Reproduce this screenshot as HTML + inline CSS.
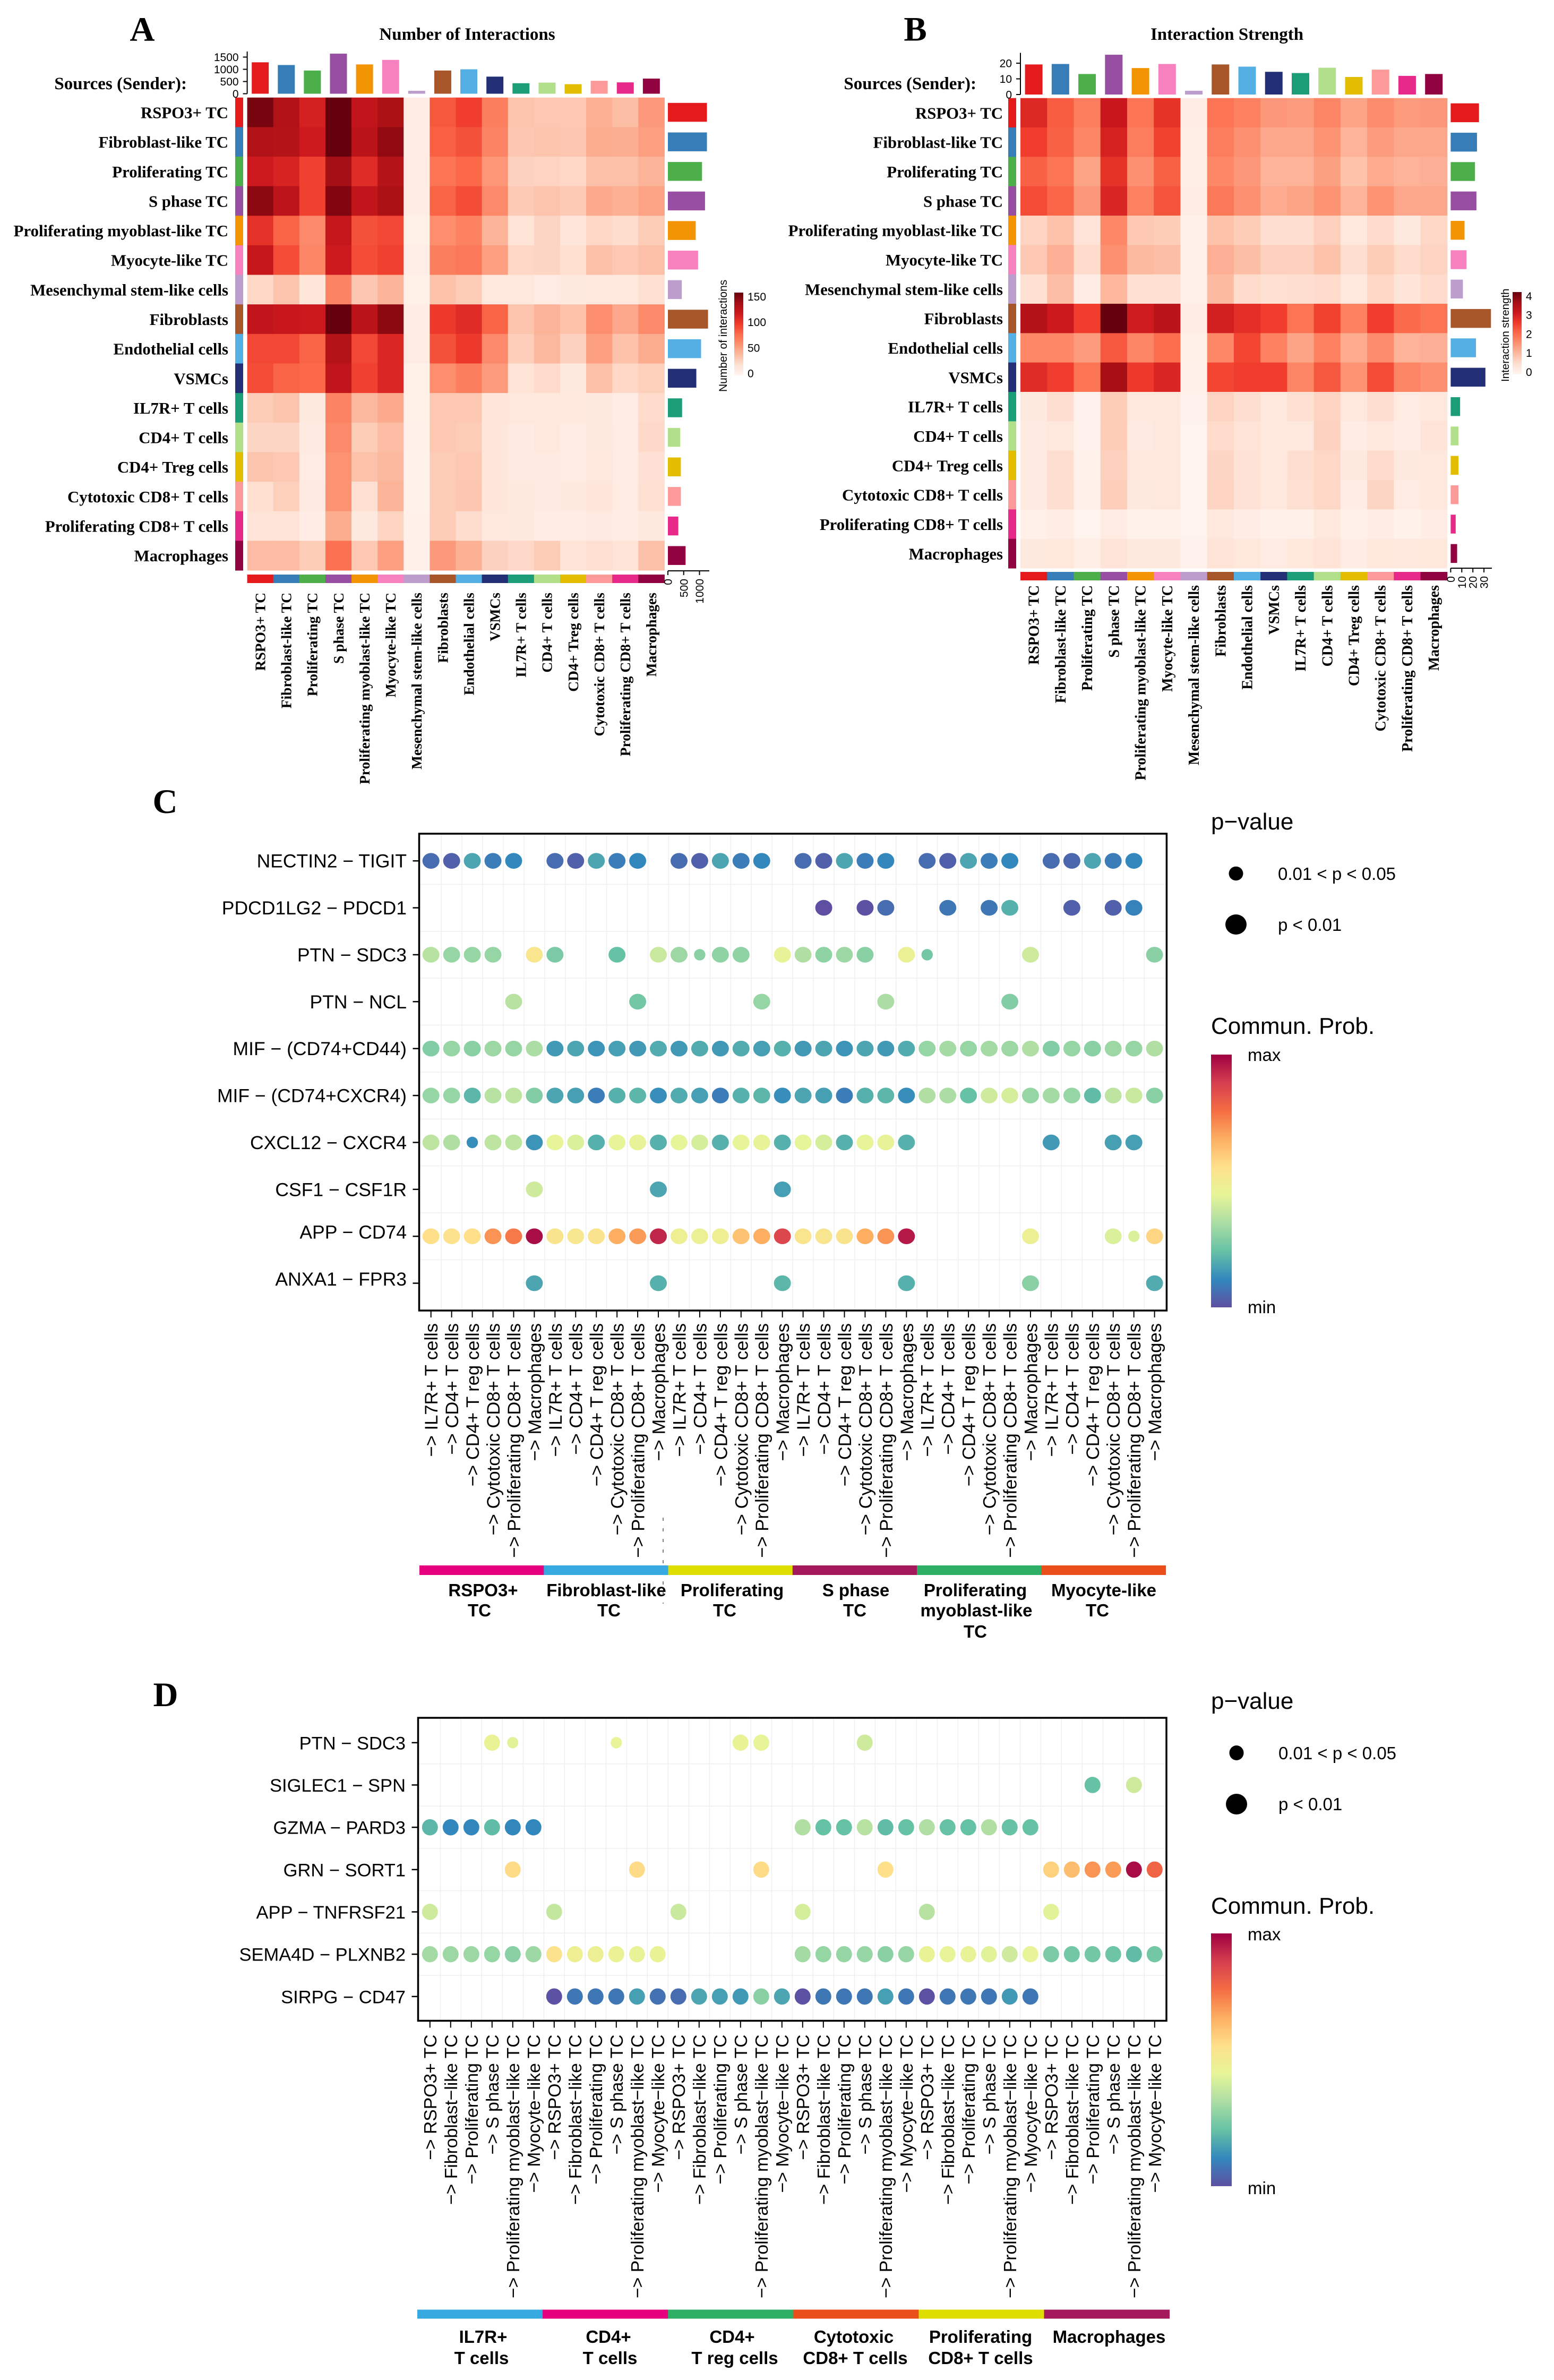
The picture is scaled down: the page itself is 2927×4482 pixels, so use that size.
<!DOCTYPE html>
<html lang="en">
<head>
<meta charset="utf-8">
<title>Cell communication figure</title>
<style>
html,body{margin:0;padding:0;background:#fff;}
svg{display:block;}
text{fill:#000;}
.serif{font-family:"Liberation Serif",serif;font-weight:bold;}
.sans{font-family:"Liberation Sans",sans-serif;}
</style>
</head>
<body>
<svg id="figure" xmlns="http://www.w3.org/2000/svg" width="2927" height="4482" viewBox="0 0 2927 4482">
<defs>
<linearGradient id="redsGrad" x1="0" y1="1" x2="0" y2="0">
<stop offset="0" stop-color="#fff5f0"/><stop offset="0.125" stop-color="#fee0d2"/><stop offset="0.25" stop-color="#fcbba1"/><stop offset="0.375" stop-color="#fc9272"/><stop offset="0.5" stop-color="#fb6a4a"/><stop offset="0.625" stop-color="#ef3b2c"/><stop offset="0.75" stop-color="#cb181d"/><stop offset="0.875" stop-color="#a50f15"/><stop offset="1" stop-color="#67000d"/>
</linearGradient>
<linearGradient id="spectralGrad" x1="0" y1="1" x2="0" y2="0">
<stop offset="0" stop-color="#5e4fa2"/><stop offset="0.111" stop-color="#3288bd"/><stop offset="0.222" stop-color="#66c2a5"/><stop offset="0.333" stop-color="#abdda4"/><stop offset="0.444" stop-color="#e6f598"/><stop offset="0.556" stop-color="#fee08b"/><stop offset="0.667" stop-color="#fdae61"/><stop offset="0.778" stop-color="#f46d43"/><stop offset="0.889" stop-color="#d53e4f"/><stop offset="1" stop-color="#9e0142"/>
</linearGradient>
</defs>

<text class="serif" x="268" y="76.5" font-size="65" text-anchor="middle">A</text>
<text class="serif" x="1724" y="76.5" font-size="65" text-anchor="middle">B</text>
<text class="serif" x="311" y="1531" font-size="65" text-anchor="middle">C</text>
<text class="serif" x="312" y="3213" font-size="65" text-anchor="middle">D</text>

<text class="serif" x="880" y="75" font-size="33" text-anchor="middle">Number of Interactions</text>
<text class="serif" x="2311" y="75" font-size="33" text-anchor="middle">Interaction Strength</text>
<text class="serif" x="352" y="168" font-size="33" text-anchor="end">Sources (Sender):</text>
<text class="serif" x="1839" y="168" font-size="33" text-anchor="end">Sources (Sender):</text>

<text class="sans" transform="translate(1369 738) rotate(-90)" font-size="21">Number of interactions</text>
<text class="sans" transform="translate(2842 719) rotate(-90)" font-size="20.5">Interaction strength</text>

<!-- Panel C legend -->
<text class="sans" x="2281" y="1562" font-size="44">p−value</text>
<ellipse cx="2328" cy="1645" rx="13.5" ry="13.2" fill="#000"/>
<ellipse cx="2328" cy="1741" rx="20" ry="19" fill="#000"/>
<text class="sans" x="2407" y="1657" font-size="33">0.01 &lt; p &lt; 0.05</text>
<text class="sans" x="2407" y="1753" font-size="33">p &lt; 0.01</text>
<text class="sans" x="2281" y="1947" font-size="44">Commun. Prob.</text>
<rect x="2281" y="1986" width="39" height="476" fill="url(#spectralGrad)"/>
<text class="sans" x="2350" y="1998" font-size="33">max</text>
<text class="sans" x="2350" y="2473" font-size="33">min</text>

<!-- Panel D legend -->
<text class="sans" x="2281" y="3218" font-size="44">p−value</text>
<ellipse cx="2329" cy="3301" rx="13.5" ry="14" fill="#000"/>
<ellipse cx="2329" cy="3397.5" rx="20" ry="19.5" fill="#000"/>
<text class="sans" x="2408" y="3313" font-size="33">0.01 &lt; p &lt; 0.05</text>
<text class="sans" x="2408" y="3409" font-size="33">p &lt; 0.01</text>
<text class="sans" x="2281" y="3604" font-size="44">Commun. Prob.</text>
<rect x="2281" y="3641" width="39" height="476" fill="url(#spectralGrad)"/>
<text class="sans" x="2350" y="3654" font-size="33">max</text>
<text class="sans" x="2350" y="4132" font-size="33">min</text>

<!-- Panel C sender group labels -->
<g class="sans" font-size="33" font-weight="bold" text-anchor="middle">
<text x="910" y="3006">RSPO3+</text><text x="903" y="3044">TC</text>
<text x="1142" y="3006">Fibroblast-like</text><text x="1147" y="3044">TC</text>
<text x="1379" y="3006">Proliferating</text><text x="1365" y="3044">TC</text>
<text x="1612" y="3006">S phase</text><text x="1610" y="3044">TC</text>
<text x="1837" y="3006">Proliferating</text><text x="1839" y="3044">myoblast-like</text><text x="1837" y="3084">TC</text>
<text x="2079" y="3006">Myocyte-like</text><text x="2067" y="3044">TC</text>
</g>
<line x1="1249" y1="2858" x2="1249" y2="3020" stroke="#555" stroke-width="1.5" stroke-dasharray="6 14"/>

<!-- Panel D receiver group labels -->
<g class="sans" font-size="33" font-weight="bold" text-anchor="middle">
<text x="910" y="4412">IL7R+</text><text x="907" y="4452">T cells</text>
<text x="1146" y="4412">CD4+</text><text x="1149" y="4452">T cells</text>
<text x="1379" y="4412">CD4+</text><text x="1384" y="4452">T reg cells</text>
<text x="1608" y="4412">Cytotoxic</text><text x="1611" y="4452">CD8+ T cells</text>
<text x="1847" y="4412">Proliferating</text><text x="1847" y="4452">CD8+ T cells</text>
<text x="2089" y="4412">Macrophages</text>
</g>
</svg>

<script>
// ---------- Heatmap data ----------
const cellTypes = ["RSPO3+ TC","Fibroblast-like TC","Proliferating TC","S phase TC","Proliferating myoblast-like TC","Myocyte-like TC","Mesenchymal stem-like cells","Fibroblasts","Endothelial cells","VSMCs","IL7R+ T cells","CD4+ T cells","CD4+ Treg cells","Cytotoxic CD8+ T cells","Proliferating CD8+ T cells","Macrophages"];
const cellColors = ["#e41a1c","#377eb8","#4daf4a","#984ea3","#f29403","#f781bf","#bc9dcc","#a65628","#54b0e4","#222f75","#1b9e77","#b2df8a","#e3be00","#fb9a99","#e7298a","#910241"];
const heatA = [
[150,130,112,155,122,132,8,85,96,68,34,32,32,44,37,55],
[130,128,115,155,125,142,8,82,88,65,33,34,33,46,45,52],
[115,110,95,135,105,128,7,72,78,56,27,26,24,36,36,42],
[143,124,95,147,122,132,8,80,90,62,31,34,31,47,44,50],
[102,80,62,120,88,92,5,60,66,42,16,25,14,24,21,30],
[120,90,64,115,90,95,6,68,70,52,24,25,20,36,32,36],
[24,34,14,65,33,42,5,35,30,13,12,9,11,13,12,19],
[122,118,117,155,125,143,8,98,105,80,34,42,35,60,48,62],
[92,92,80,128,92,108,9,88,98,62,29,40,27,52,35,46],
[90,80,78,122,95,108,5,60,68,54,16,22,11,36,24,28],
[30,34,11,65,40,47,5,32,32,14,12,12,13,11,7,22],
[25,25,10,62,30,38,4,32,30,14,10,13,9,11,9,23],
[34,32,9,58,35,40,3,30,32,14,10,10,9,13,9,18],
[20,28,10,58,19,42,3,30,33,14,11,10,11,14,9,19],
[16,17,8,46,11,26,4,30,21,13,11,8,7,10,7,11],
[38,38,30,74,32,52,4,55,44,27,23,30,16,19,17,36]];
const topBarsA = [1286,1175,950,1640,1200,1385,120,950,1000,700,430,455,390,530,465,620];
const rightBarsA = [1236,1236,1080,1175,880,955,440,1270,1050,900,450,390,410,410,330,560];
const topTicksA = [0,500,1000,1500];
const rightTicksA = [0,500,1000];
const legendTicksA = [0,50,100,150];

const heatB = [
[2.9,2.25,1.85,3.2,1.95,2.75,0.2,1.95,1.8,1.5,1.45,1.75,1.35,1.65,1.45,1.5],
[2.6,2.2,1.75,3.0,1.85,2.55,0.17,1.85,1.6,1.3,1.3,1.55,1.15,1.45,1.3,1.3],
[2.2,1.95,1.35,2.75,1.6,2.2,0.17,1.7,1.5,1.15,1.15,1.4,0.95,1.25,1.15,1.2],
[2.45,2.15,1.5,2.95,1.8,2.35,0.2,1.9,1.6,1.25,1.35,1.55,1.15,1.55,1.3,1.3],
[0.7,0.95,0.45,1.7,0.85,0.8,0.1,0.95,0.8,0.55,0.55,0.75,0.35,0.6,0.3,0.65],
[0.85,1.2,0.6,1.6,1.05,1.0,0.12,1.2,1.0,0.75,0.75,0.95,0.55,0.8,0.6,0.7],
[0.5,1.0,0.2,1.1,0.5,0.5,0.1,1.05,0.6,0.5,0.55,0.6,0.35,0.65,0.4,0.6],
[3.5,3.15,2.6,4.2,3.1,3.4,0.2,3.05,2.8,2.6,1.95,2.55,1.8,2.6,2.1,1.95],
[1.7,1.7,1.45,2.3,1.75,2.05,0.15,1.7,2.5,1.8,1.35,1.8,1.25,1.65,1.15,1.2],
[2.85,2.6,1.95,3.65,2.65,2.95,0.1,2.5,2.6,2.6,1.75,2.3,1.55,2.45,1.75,1.6],
[0.3,0.55,0.07,0.8,0.35,0.35,0.07,0.7,0.55,0.35,0.5,0.7,0.35,0.55,0.25,0.35],
[0.27,0.33,0.07,0.8,0.27,0.33,0.06,0.6,0.45,0.32,0.35,0.72,0.2,0.35,0.2,0.42],
[0.27,0.55,0.08,0.75,0.33,0.35,0.06,0.68,0.48,0.33,0.55,0.65,0.3,0.6,0.3,0.35],
[0.27,0.55,0.1,0.78,0.3,0.33,0.06,0.7,0.48,0.35,0.52,0.65,0.2,0.68,0.25,0.35],
[0.13,0.2,0.05,0.25,0.08,0.08,0.05,0.33,0.2,0.12,0.12,0.33,0.1,0.2,0.08,0.2],
[0.3,0.36,0.17,0.42,0.3,0.3,0.07,0.45,0.36,0.25,0.36,0.45,0.2,0.36,0.33,0.36]];
const topBarsB = [19.2,19.5,13.1,25.4,16.9,19.5,2.4,19.2,17.8,14.5,13.7,17.1,11.2,15.9,11.9,13.1];
const rightBarsB = [25.5,23.7,21.9,23.2,12.5,14.3,11,36.3,22.8,31.3,8.5,7,7,7,4.5,5.8];
const topTicksB = [0,10,20];
const rightTicksB = [0,10,20,30];
const legendTicksB = [0,1,2,3,4];

// ---------- Bubble data ----------
const _ = null;
const pairsC = ["NECTIN2 − TIGIT","PDCD1LG2 − PDCD1","PTN − SDC3","PTN − NCL","MIF − (CD74+CD44)","MIF − (CD74+CXCR4)","CXCL12 − CXCR4","CSF1 − CSF1R","APP − CD74","ANXA1 − FPR3"];
const targetsC = ["IL7R+ T cells","CD4+ T cells","CD4+ T reg cells","Cytotoxic CD8+ T cells","Proliferating CD8+ T cells","Macrophages"];
const senderColorsC = ["#e6007e","#36a9e1","#dede00","#a3195b","#2eaf66","#e94e1b"];
const probC = [
[.05,.03,.15,.08,.1,_, .05,.03,.15,.08,.1,_, .05,.03,.15,.08,.1,_, .05,.03,.15,.08,.1,_, .05,.03,.15,.08,.1,_, .05,.04,.15,.08,.1,_],
[_,_,_,_,_,_, _,_,_,_,_,_, _,_,_,_,_,_, _,0,_,.005,.05,_, _,.07,_,.07,.17,_, _,.03,_,.03,.09,_],
[.32,.27,.27,.27,_,.55, .23,_,_,.2,_,.35, .28,.25,.26,.26,_,.42, .31,.26,.28,.25,_,.45, .22,_,_,_,_,.36, _,_,_,_,_,.25],
[_,_,_,_,.32,_, _,_,_,_,.22,_, _,_,_,_,.27,_, _,_,_,_,.3,_, _,_,_,_,.24,_, _,_,_,_,_,_],
[.24,.27,.25,.28,.27,.3, .13,.15,.12,.14,.13,.16, .13,.16,.13,.16,.14,.17, .13,.15,.12,.15,.13,.16, .27,.29,.27,.29,.28,.31, .24,.27,.25,.28,.27,.31],
[.27,.27,.18,.32,.33,.24, .15,.14,.08,.17,.18,.11, .16,.14,.08,.17,.18,.11, .15,.14,.08,.17,.18,.11, .31,.3,.2,.36,.37,.27, .29,.27,.19,.33,.35,.25],
[.33,.31,.11,.33,.33,.12, .41,.38,.17,.41,.42,.17, .4,.37,.17,.41,.42,.17, .4,.37,.17,.41,.42,.17, _,_,_,_,_,_, .13,_,_,.14,.14,_],
[_,_,_,_,_,.36, _,_,_,_,_,.15, _,_,_,_,_,.14, _,_,_,_,_,_, _,_,_,_,_,_, _,_,_,_,_,_],
[.6,.58,.6,.74,.78,.98, .56,.53,.57,.7,.73,.94, .47,.45,.47,.66,.7,.88, .55,.54,.57,.7,.74,.96, _,_,_,_,_,.46, _,_,_,.38,.38,.62],
[_,_,_,_,_,.15, _,_,_,_,_,.17, _,_,_,_,_,.18, _,_,_,_,_,.17, _,_,_,_,_,.25, _,_,_,_,_,.16]];
const smallC = [[],[],[13,24],[],[],[],[2],[],[34],[]];

const pairsD = ["PTN − SDC3","SIGLEC1 − SPN","GZMA − PARD3","GRN − SORT1","APP − TNFRSF21","SEMA4D − PLXNB2","SIRPG − CD47"];
const sendersD = ["RSPO3+ TC","Fibroblast−like TC","Proliferating TC","S phase TC","Proliferating myoblast−like TC","Myocyte−like TC"];
const targetColorsD = ["#36a9e1","#e6007e","#2eaf66","#e94e1b","#dede00","#a3195b"];
const probD = [
[_,_,_,.43,.39,_, _,_,_,.41,_,_, _,_,_,.43,.41,_, _,_,_,.36,_,_, _,_,_,_,_,_, _,_,_,_,_,_],
[_,_,_,_,_,_, _,_,_,_,_,_, _,_,_,_,_,_, _,_,_,_,_,_, _,_,_,_,_,_, _,_,.2,_,.36,_],
[.18,.1,.1,.19,.1,.1, _,_,_,_,_,_, _,_,_,_,_,_, .31,.2,.2,.32,.19,.2, .31,.2,.2,.31,.2,.2, _,_,_,_,_,_],
[_,_,_,_,.61,_, _,_,_,_,.61,_, _,_,_,_,.61,_, _,_,_,_,.6,_, _,_,_,_,_,_, .63,.67,.74,.73,.98,.82],
[.36,_,_,_,_,_, .34,_,_,_,_,_, .35,_,_,_,_,_, .37,_,_,_,_,_, .32,_,_,_,_,_, .39,_,_,_,_,_],
[.29,.28,.28,.27,.25,.28, .58,.47,.46,.44,.42,.43, _,_,_,_,_,_, .29,.27,.27,.27,.25,.27, .43,.41,.42,.39,.36,.41, .23,.22,.22,.21,.19,.22],
[_,_,_,_,_,_, .005,.07,.07,.07,.14,.06, .05,.15,.14,.13,.25,.15, .005,.07,.07,.07,.14,.07, .005,.07,.07,.07,.13,.07, _,_,_,_,_,_]];
const smallD = [[4,9],[],[],[],[],[],[]];

// ---------- Palettes ----------
const redsStops = ["#fff5f0","#fee0d2","#fcbba1","#fc9272","#fb6a4a","#ef3b2c","#cb181d","#a50f15","#67000d"];
const spectralStops = ["#5e4fa2","#3288bd","#66c2a5","#abdda4","#e6f598","#fee08b","#fdae61","#f46d43","#d53e4f","#9e0142"];
const spectralKnots = [0,.1,.2,.3,.4,.6,.7,.8,.9,1];

function hexToRgb(h){return [parseInt(h.slice(1,3),16),parseInt(h.slice(3,5),16),parseInt(h.slice(5,7),16)];}
function blend(h1,h2,f){
  const a=hexToRgb(h1),b=hexToRgb(h2);
  return 'rgb('+a.map((v,n)=>Math.round(v+(b[n]-v)*f)).join(',')+')';
}
function ramp(stops,t){
  const c=Math.max(0,Math.min(1,t))*(stops.length-1);
  const i=Math.min(Math.floor(c),stops.length-2);
  return blend(stops[i],stops[i+1],c-i);
}
function spectralColor(t){
  const v=Math.max(0,Math.min(1,t));
  let i=0;
  while(i<spectralKnots.length-2&&v>spectralKnots[i+1]){i++;}
  return blend(spectralStops[i],spectralStops[i+1],(v-spectralKnots[i])/(spectralKnots[i+1]-spectralKnots[i]));
}

const NS='http://www.w3.org/2000/svg';
const root=document.getElementById('figure');
function mk(tag,attrs,parent,txt){
  const el=document.createElementNS(NS,tag);
  for(const k in attrs){el.setAttribute(k,attrs[k]);}
  if(txt!==undefined){el.textContent=txt;}
  parent.appendChild(el);
  return el;
}

// ---------- Heatmap panels ----------
function drawHeatPanel(cfg,matrix,topVals,rightVals,topTicks,rightTicks,legendTicks){
  const g=mk('g',{},root);
  
  
  const colW=(cfg.x1-cfg.x0)/cellTypes.length;
  const rowH=(cfg.y1-cfg.y0)/cellTypes.length;
  const xCol=i=>cfg.x0+colW*i;
  const yRow=i=>cfg.y0+rowH*i;
  const yTop=v=>cfg.topBase-v*cfg.topScale;
  const xRight=v=>cfg.rightZero+v*cfg.rightScale;
  const yLegend=v=>cfg.legZero-v*cfg.legScale;
  const heatFill=v=>ramp(redsStops,v/cfg.max);

  matrix.forEach((row,r)=>{
    row.forEach((v,c)=>{
      const cell=mk('rect',{x:xCol(c),y:yRow(r),width:colW+0.5,height:rowH+0.5,fill:heatFill(v)},g);
      
      
    });
  });

  cellTypes.forEach((name,i)=>{
    const strip=mk('rect',{x:cfg.stripX,y:yRow(i),width:cfg.stripW,height:rowH+0.5,fill:cellColors[i]},g);
    
    

    const colStrip=mk('rect',{x:xCol(i),y:cfg.colStripY,width:colW+0.5,height:cfg.colStripH,fill:cellColors[i]},g);
    
    

    const rowLabel=mk('text',{x:cfg.rowLabelX,y:yRow(i)+rowH/2+11,'font-size':cfg.rowFont,'text-anchor':'end','class':'serif'},g,name);
    
    

    const cx=xCol(i)+colW/2+cfg.colFont*0.34;
    const colLabel=mk('text',{transform:'translate('+cx+' '+cfg.colLabelTop+') rotate(-90)','font-size':cfg.colFont,'text-anchor':'end','class':'serif'},g,name);
    
    

    const topBar=mk('rect',{x:xCol(i)+(colW-cfg.barW)/2,y:yTop(topVals[i]),width:cfg.barW,height:cfg.topBase-yTop(topVals[i]),fill:cellColors[i]},g);
    
    

    const rightBar=mk('rect',{x:cfg.rightZero,y:yRow(i)+(rowH-35.5)/2,width:xRight(rightVals[i])-cfg.rightZero,height:35.5,fill:cellColors[i]},g);
    
    
  });

  const topAxis=mk('line',{x1:cfg.x0,x2:cfg.x0,y1:cfg.topAxisTop,y2:cfg.topBase,stroke:'#000','stroke-width':2},g);
  
  
  topTicks.forEach(v=>{
    const t=mk('line',{x1:cfg.x0-8,x2:cfg.x0,y1:yTop(v),y2:yTop(v),stroke:'#000','stroke-width':2},g);
    
    
    const l=mk('text',{x:cfg.x0-16,y:yTop(v)+7.5,'font-size':21,'text-anchor':'end','class':'sans'},g,String(v));
    
    
  });

  const rightAxis=mk('line',{x1:cfg.rightZero,x2:cfg.rightAxisEnd,y1:cfg.rightAxisY,y2:cfg.rightAxisY,stroke:'#000','stroke-width':2},g);
  
  
  rightTicks.forEach(v=>{
    const t=mk('line',{x1:xRight(v),x2:xRight(v),y1:cfg.rightAxisY,y2:cfg.rightAxisY+8,stroke:'#000','stroke-width':2},g);
    
    
    const l=mk('text',{transform:'translate('+(xRight(v)+7.5)+' '+(cfg.rightAxisY+15)+') rotate(-90)','font-size':21,'text-anchor':'end','class':'sans'},g,String(v));
    
    
  });

  const bar=mk('rect',{x:cfg.legX,y:cfg.legTop,width:cfg.legW,height:cfg.legBottom-cfg.legTop,fill:'url(#redsGrad)'},g);
  
  
  legendTicks.forEach(v=>{
    const l=mk('text',{x:cfg.legX+cfg.legW+8,y:yLegend(v)+7.5,'font-size':21,'class':'sans'},g,String(v));
    
    
  });
}

drawHeatPanel({id:'interaction-count',x0:465.6,x1:1251.4,y0:183.7,y1:1074,stripX:443,stripW:15,colStripY:1082,colStripH:16,
  rowLabelX:430,rowFont:30.8,colFont:27.5,colLabelTop:1116,barW:32,topBase:176.5,topScale:0.046,topAxisTop:97,
  rightZero:1258,rightScale:0.0595,rightAxisEnd:1336,rightAxisY:1075,max:155,
  legX:1383,legW:17,legTop:551,legBottom:706.6,legZero:703,legScale:0.964},
  heatA,topBarsA,rightBarsA,topTicksA,rightTicksA,legendTicksA);

drawHeatPanel({id:'interaction-strength',x0:1922,x1:2725.8,y0:184.7,y1:1070,stripX:1899,stripW:15,colStripY:1077,colStripH:16,
  rowLabelX:1889,rowFont:30.8,colFont:28,colLabelTop:1102,barW:33,topBase:178,topScale:2.95,topAxisTop:99.5,
  rightZero:2732.4,rightScale:2.09,rightAxisEnd:2810,rightAxisY:1070,max:4.2,
  legX:2849,legW:17,legTop:550,legBottom:705,legZero:700.5,legScale:35.8},
  heatB,topBarsB,rightBarsB,topTicksB,rightTicksB,legendTicksB);

// ---------- Bubble panels ----------
function drawBubblePanel(cfg,pairs,labels,groupColors,prob,small){
  const g=mk('g',{},root);
  
  
  const xCol=k=>cfg.xFirst+cfg.xStep*k;
  const yRow=r=>cfg.yFirst+cfg.yStep*r;
  const nCols=labels.length*groupColors.length;

  for(let k=0;k<nCols-1;k++){
    const gl=mk('line',{x1:xCol(k+0.5),x2:xCol(k+0.5),y1:cfg.top,y2:cfg.bottom,stroke:'#efefef','stroke-width':1.5},g);
    
    
  }
  for(let r=0;r<pairs.length-1;r++){
    const gl=mk('line',{x1:cfg.left,x2:cfg.right,y1:yRow(r+0.5),y2:yRow(r+0.5),stroke:'#efefef','stroke-width':1.5},g);
    
    
  }

  pairs.forEach((name,r)=>{
    const tick=mk('line',{x1:cfg.left-12,x2:cfg.left,y1:yRow(r),y2:yRow(r),stroke:'#000','stroke-width':2.5},g);
    
    
    const lab=mk('text',{x:cfg.yLabelX,y:yRow(r)+12.5-(cfg.raiseFrom!==undefined&&r>=cfg.raiseFrom?8:0),'font-size':cfg.yFont,'text-anchor':'end','class':'sans'},g,name);
    
    
    prob[r].forEach((v,k)=>{
      if(v===null){return;}
      const isSmall=small[r].indexOf(k)>=0;
      const dot=mk('ellipse',{cx:xCol(k),cy:yRow(r),rx:isSmall?cfg.smallRx:cfg.rx,ry:isSmall?cfg.smallRy:cfg.ry,fill:spectralColor(v)},g);
      
      
    });
  });

  for(let k=0;k<nCols;k++){
    const tick=mk('line',{x1:xCol(k),x2:xCol(k),y1:cfg.bottom,y2:cfg.bottom+13,stroke:'#000','stroke-width':2},g);
    
    
    const txt='−> '+labels[k%labels.length];
    const lab=mk('text',{transform:'translate('+(xCol(k)+cfg.xFont*0.36)+' '+cfg.xLabelTop+') rotate(-90)','font-size':cfg.xFont,'text-anchor':'end','class':'sans'},g,txt);
    
    
  }

  const frame=mk('rect',{x:cfg.left,y:cfg.top,width:cfg.right-cfg.left,height:cfg.bottom-cfg.top,fill:'none',stroke:'#000','stroke-width':3.5},g);
  
  

  const segW=(cfg.stripRight-cfg.stripLeft)/groupColors.length;
  groupColors.forEach((c,i)=>{
    const seg=mk('rect',{x:cfg.stripLeft+segW*i,y:cfg.stripY,width:segW+0.5,height:cfg.stripH,fill:c},g);
    
    
  });
}

drawBubblePanel({id:'sender-lr',left:789.5,right:2197.4,top:1570,bottom:2468,xFirst:811.7,xStep:38.94,yFirst:1621.2,yStep:88.37,
  yLabelX:766,yFont:35.5,xFont:34.6,xLabelTop:2492,rx:16,ry:14.8,smallRx:10.7,smallRy:10.8,raiseFrom:8,
  stripLeft:790,stripRight:2195.6,stripY:2948,stripH:18},
  pairsC,targetsC,senderColorsC,probC,smallC);

drawBubblePanel({id:'receiver-lr',left:787.5,right:2197,top:3235,bottom:3805.5,xFirst:809.8,xStep:39,yFirst:3281.8,yStep:79.67,
  yLabelX:764,yFont:34.5,xFont:33.7,xLabelTop:3831.5,rx:15,ry:15.3,smallRx:10.5,smallRy:10.8,
  stripLeft:786,stripRight:2202.6,stripY:4349.5,stripH:17},
  pairsD,sendersD,targetColorsD,probD,smallD);
</script>
</body>
</html>
